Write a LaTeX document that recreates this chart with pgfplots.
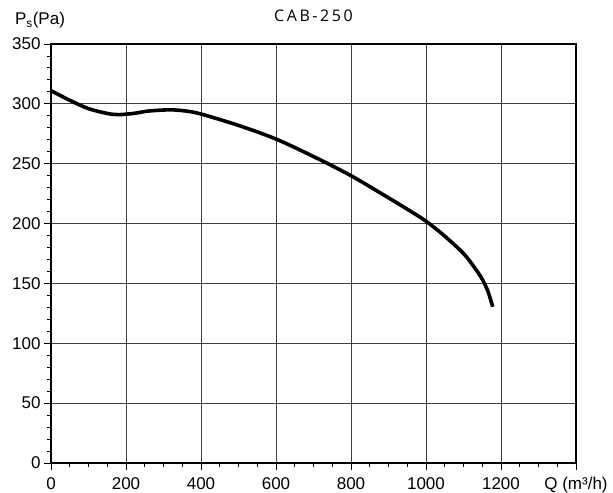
\documentclass[border=0pt]{standalone}
\usepackage{pgfplots}
\pgfplotsset{compat=1.18}
\usepackage{fontspec}
\setmainfont{Liberation Sans}
\newfontfamily\titlefont[LetterSpace=16]{Open Sans}
\begin{document}
\begin{tikzpicture}
\begin{axis}[
  scale only axis,
  width=525bp, height=419bp,
  xmin=0, xmax=1400, ymin=0, ymax=350,
  xtick={0,200,400,600,800,1000,1200,1400},
  xticklabels={0,200,400,600,800,1000,1200,Q (m³/h)},
  ytick={0,50,100,150,200,250,300,350},
  minor x tick num=3,
  minor y tick num=4,
  tick align=outside,
  xtick pos=bottom, ytick pos=left,
  major tick length=7bp, minor tick length=4bp,
  every tick/.style={black, line width=0.9bp},
  axis line style={black, line width=1.2bp},
  grid=major,
  major grid style={black!75, line width=0.8bp},
  tick label style={font=\fontsize{17bp}{19bp}\selectfont},
  /pgf/number format/assume math mode=true,
  /pgf/number format/set thousands separator={},
  xticklabel style={yshift=-4bp},
  yticklabel style={xshift=0bp},
  every axis y label/.style={at={(rel axis cs:0,1)}, anchor=base, xshift=-11bp, yshift=19bp},
  ylabel={\fontsize{17bp}{19bp}\selectfont P\textsubscript{s}(Pa)},
  title style={at={(rel axis cs:0.5,1)}, anchor=base, yshift=17bp},
  title={\titlefont\fontsize{16bp}{18bp}\selectfont CAB-250},
]
\addplot[black, line width=3.6bp, smooth, tension=0.5] coordinates {
(0,311) (50,303) (100,296) (150,292) (180,291) (220,292) (260,294) (317,295) (360,294) (400,291.5)
(500,282) (600,270.6) (700,256) (800,240) (900,221.5) (950,212) (1000,202) (1050,189.5) (1100,175) (1130,163) (1150,153.5) (1165,143.5) (1178,130.5)
};
\end{axis}
\pgfresetboundingbox
\useasboundingbox ([xshift=-51bp,yshift=-30bp]current axis.south west) rectangle ([xshift=37bp,yshift=44bp]current axis.north east);
\end{tikzpicture}
\end{document}
